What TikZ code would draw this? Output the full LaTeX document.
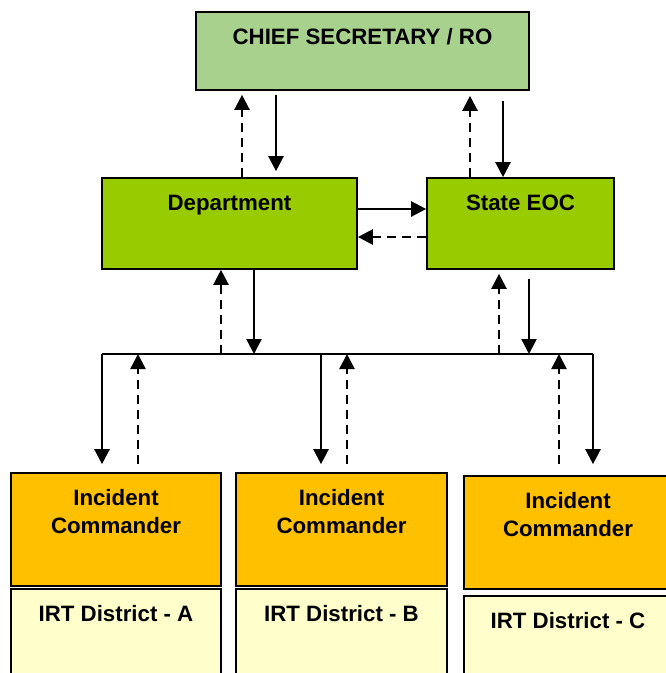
\documentclass[tikz,border=0pt]{standalone}
\usepackage{fontspec}
\setmainfont{Liberation Sans}
\usepackage{xcolor}
\usepackage{tikz}
\usetikzlibrary{positioning,calc}
\usetikzlibrary{arrows.meta}
\definecolor{csgreen}{HTML}{A9D18E}
\definecolor{unitgreen}{HTML}{99CC00}
\definecolor{cmdorange}{HTML}{FFC000}
\definecolor{irtyellow}{HTML}{FFFFCC}
\tikzset{>={Triangle[length=0.45cm,width=0.45cm]}}
\tikzstyle{box}=[draw=black,line width=1.4pt,rectangle,inner sep=0pt]
\tikzstyle{boxtext}=[inner sep=0pt,align=center,font=\fontsize{19}{23.8}\selectfont\bfseries]
\tikzstyle{order}=[->,line width=2pt,black]
\tikzstyle{report}=[order,dash pattern=on 0.27cm off 0.18cm]

\begin{document}
\begin{tikzpicture}[x=0.03cm,y=-0.03cm]
	\useasboundingbox (0,0) rectangle (665,673);
	% boxes
	\node[box,fill=csgreen,minimum width=9.99cm,minimum height=2.34cm] (cs) at (362.5,51) {};
	\node[box,fill=unitgreen,minimum width=7.65cm,minimum height=2.73cm] (dept) at (229.5,223.5) {};
	\node[box,fill=unitgreen,minimum width=5.61cm,minimum height=2.73cm] (eoc) at (520.5,223.5) {};
	\node[box,fill=cmdorange,minimum width=6.3cm,minimum height=3.39cm] (icA) at (116,529.5) {};
	\node[box,fill=cmdorange,minimum width=6.33cm,minimum height=3.39cm] (icB) at (341.5,529.5) {};
	\node[box,fill=cmdorange,minimum width=6.24cm,minimum height=3.39cm] (icC) at (568,532.5) {};
	\node[box,fill=irtyellow,minimum width=6.3cm,minimum height=3.03cm] (irtA) at (116,639.5) {};
	\node[box,fill=irtyellow,minimum width=6.33cm,minimum height=3.03cm] (irtB) at (341.5,639.5) {};
	\node[box,fill=irtyellow,minimum width=6.24cm,minimum height=3.03cm] (irtC) at (568,646.5) {};
	% texts
	\node[boxtext,below=0.5cm of cs.north] (cs-t) {CHIEF SECRETARY / RO};
	\node[boxtext,below=0.52cm of dept.north] (dept-t) {Department};
	\node[boxtext,below=0.52cm of eoc.north] (eoc-t) {State EOC};
	\node[boxtext,below=0.5cm of icA.north] (icA-t) {Incident\\Commander};
	\node[boxtext,below=0.5cm of icB.north] (icB-t) {Incident\\Commander};
	\node[boxtext,below=0.5cm of icC.north] (icC-t) {Incident\\Commander};
	\node[boxtext,below=0.52cm of irtA.north] (irtA-t) {IRT District - A};
	\node[boxtext,below=0.52cm of irtB.north] (irtB-t) {IRT District - B};
	\node[boxtext,below=0.52cm of irtC.north] (irtC-t) {IRT District - C};
	% bus
	\coordinate (busL) at (102,354);
	\coordinate (busR) at (593,354);
	\draw[line width=2pt] (busL) -- (busR);
	% top level
	\draw[order,shorten <=0.12cm,shorten >=0.18cm] (cs.south -| 276,0) -- (dept.north -| 276,0);
	\draw[report,shorten >=0.12cm] (dept.north -| 242,0) -- (cs.south -| 242,0);
	\draw[order,shorten <=0.3cm] (cs.south -| 503,0) -- (eoc.north -| 503,0);
	\draw[report,shorten >=0.15cm] (eoc.north -| 470,0) -- (cs.south -| 470,0);
	\draw[order] (dept.east |- 0,209) -- (eoc.west |- 0,209);
	\draw[report] (eoc.west |- 0,237) -- (dept.east |- 0,237);
	% to bus
	\draw[order] (dept.south -| 254,0) -- (busL -| 254,0);
	\draw[report] (busL -| 221,0) -- (dept.south -| 221,0);
	\draw[order,shorten <=0.27cm] (eoc.south -| 529,0) -- (busL -| 529,0);
	\draw[report,shorten >=0.12cm] (busL -| 499,0) -- (eoc.south -| 499,0);
	% to districts
	\draw[order,shorten >=0.24cm] (busL) -- (busL |- icA.north);
	\draw[order,shorten >=0.24cm] (busL -| 321,0) -- (icB.north -| 321,0);
	\draw[order,shorten >=0.33cm] (busR) -- (busR |- icC.north);
	\draw[report,shorten <=0.24cm] (icA.north -| 138,0) -- (busL -| 138,0);
	\draw[report,shorten <=0.24cm] (icB.north -| 347,0) -- (busL -| 347,0);
	\draw[report,shorten <=0.33cm] (icC.north -| 559,0) -- (busL -| 559,0);
\end{tikzpicture}
\end{document}
